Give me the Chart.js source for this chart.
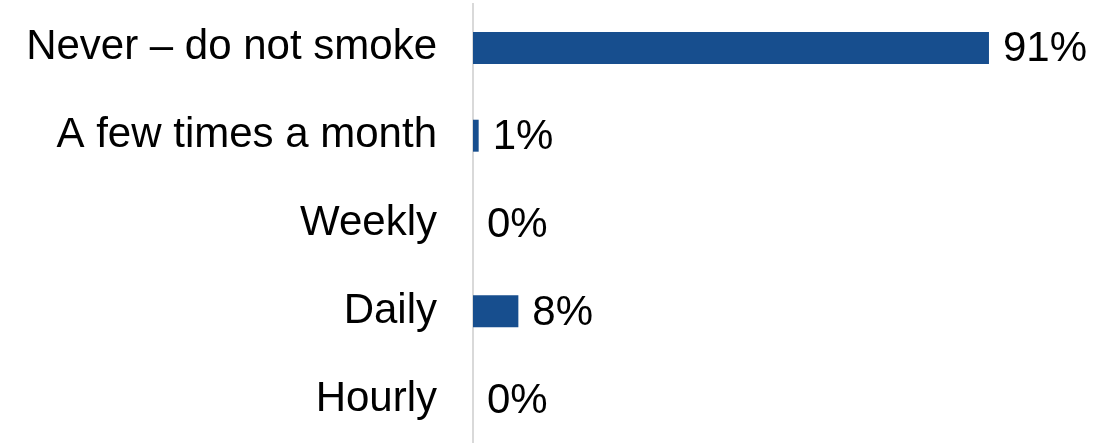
<!DOCTYPE html>
<html>
<head>
<meta charset="utf-8">
<script src="https://cdn.jsdelivr.net/npm/chart.js@4/dist/chart.umd.min.js"></script>
<style>
  html, body { margin: 0; padding: 0; background: #fff; }
  #wrap { width: 1097px; height: 443px; }
</style>
</head>
<body>
<div id="wrap"><canvas id="smoke-chart"></canvas></div>
<script>
const categories = ["Never \u2013 do not smoke", "A few times a month", "Weekly", "Daily", "Hourly"];
const shares = [91, 1, 0, 8, 0];

const FONT = "'Liberation Sans', Arial, sans-serif";

// writes "91%" etc. just right of each bar
const valueLabels = {
  id: "valueLabels",
  afterDatasetsDraw(chart) {
    const ctx = chart.ctx;
    const meta = chart.getDatasetMeta(0);
    ctx.save();
    ctx.font = "42px " + FONT;
    ctx.fillStyle = "#000";
    ctx.textAlign = "left";
    ctx.textBaseline = "middle";
    meta.data.forEach((bar, i) => {
      ctx.fillText(shares[i] + "%", bar.x + 14, bar.y + 2);
    });
    ctx.restore();
  },
};

new Chart(document.getElementById("smoke-chart"), {
  type: "bar",
  data: {
    labels: categories,
    datasets: [
      {
        data: shares,
        backgroundColor: "#174e8e",
        categoryPercentage: 0.8,
        barPercentage: 0.455,
      },
    ],
  },
  options: {
    indexAxis: "y",
    responsive: true,
    maintainAspectRatio: false,
    animation: false,
    layout: { padding: { top: 4, bottom: 0, right: 57, left: 0 } },
    plugins: {
      legend: { display: false },
      tooltip: { enabled: false },
    },
    scales: {
      x: { display: false, min: 0, max: 100 },
      y: {
        grid: { display: false, drawTicks: false },
        border: { display: true, color: "#d9d9d9", width: 2 },
        ticks: {
          color: "#000",
          padding: 36,
          font: { family: FONT, size: 42 },
        },
        afterFit(scale) {
          scale.width = 473;
          scale.paddingTop = 0;
          scale.paddingBottom = 0;
        },
      },
    },
  },
  plugins: [valueLabels],
});
</script>
</body>
</html>
